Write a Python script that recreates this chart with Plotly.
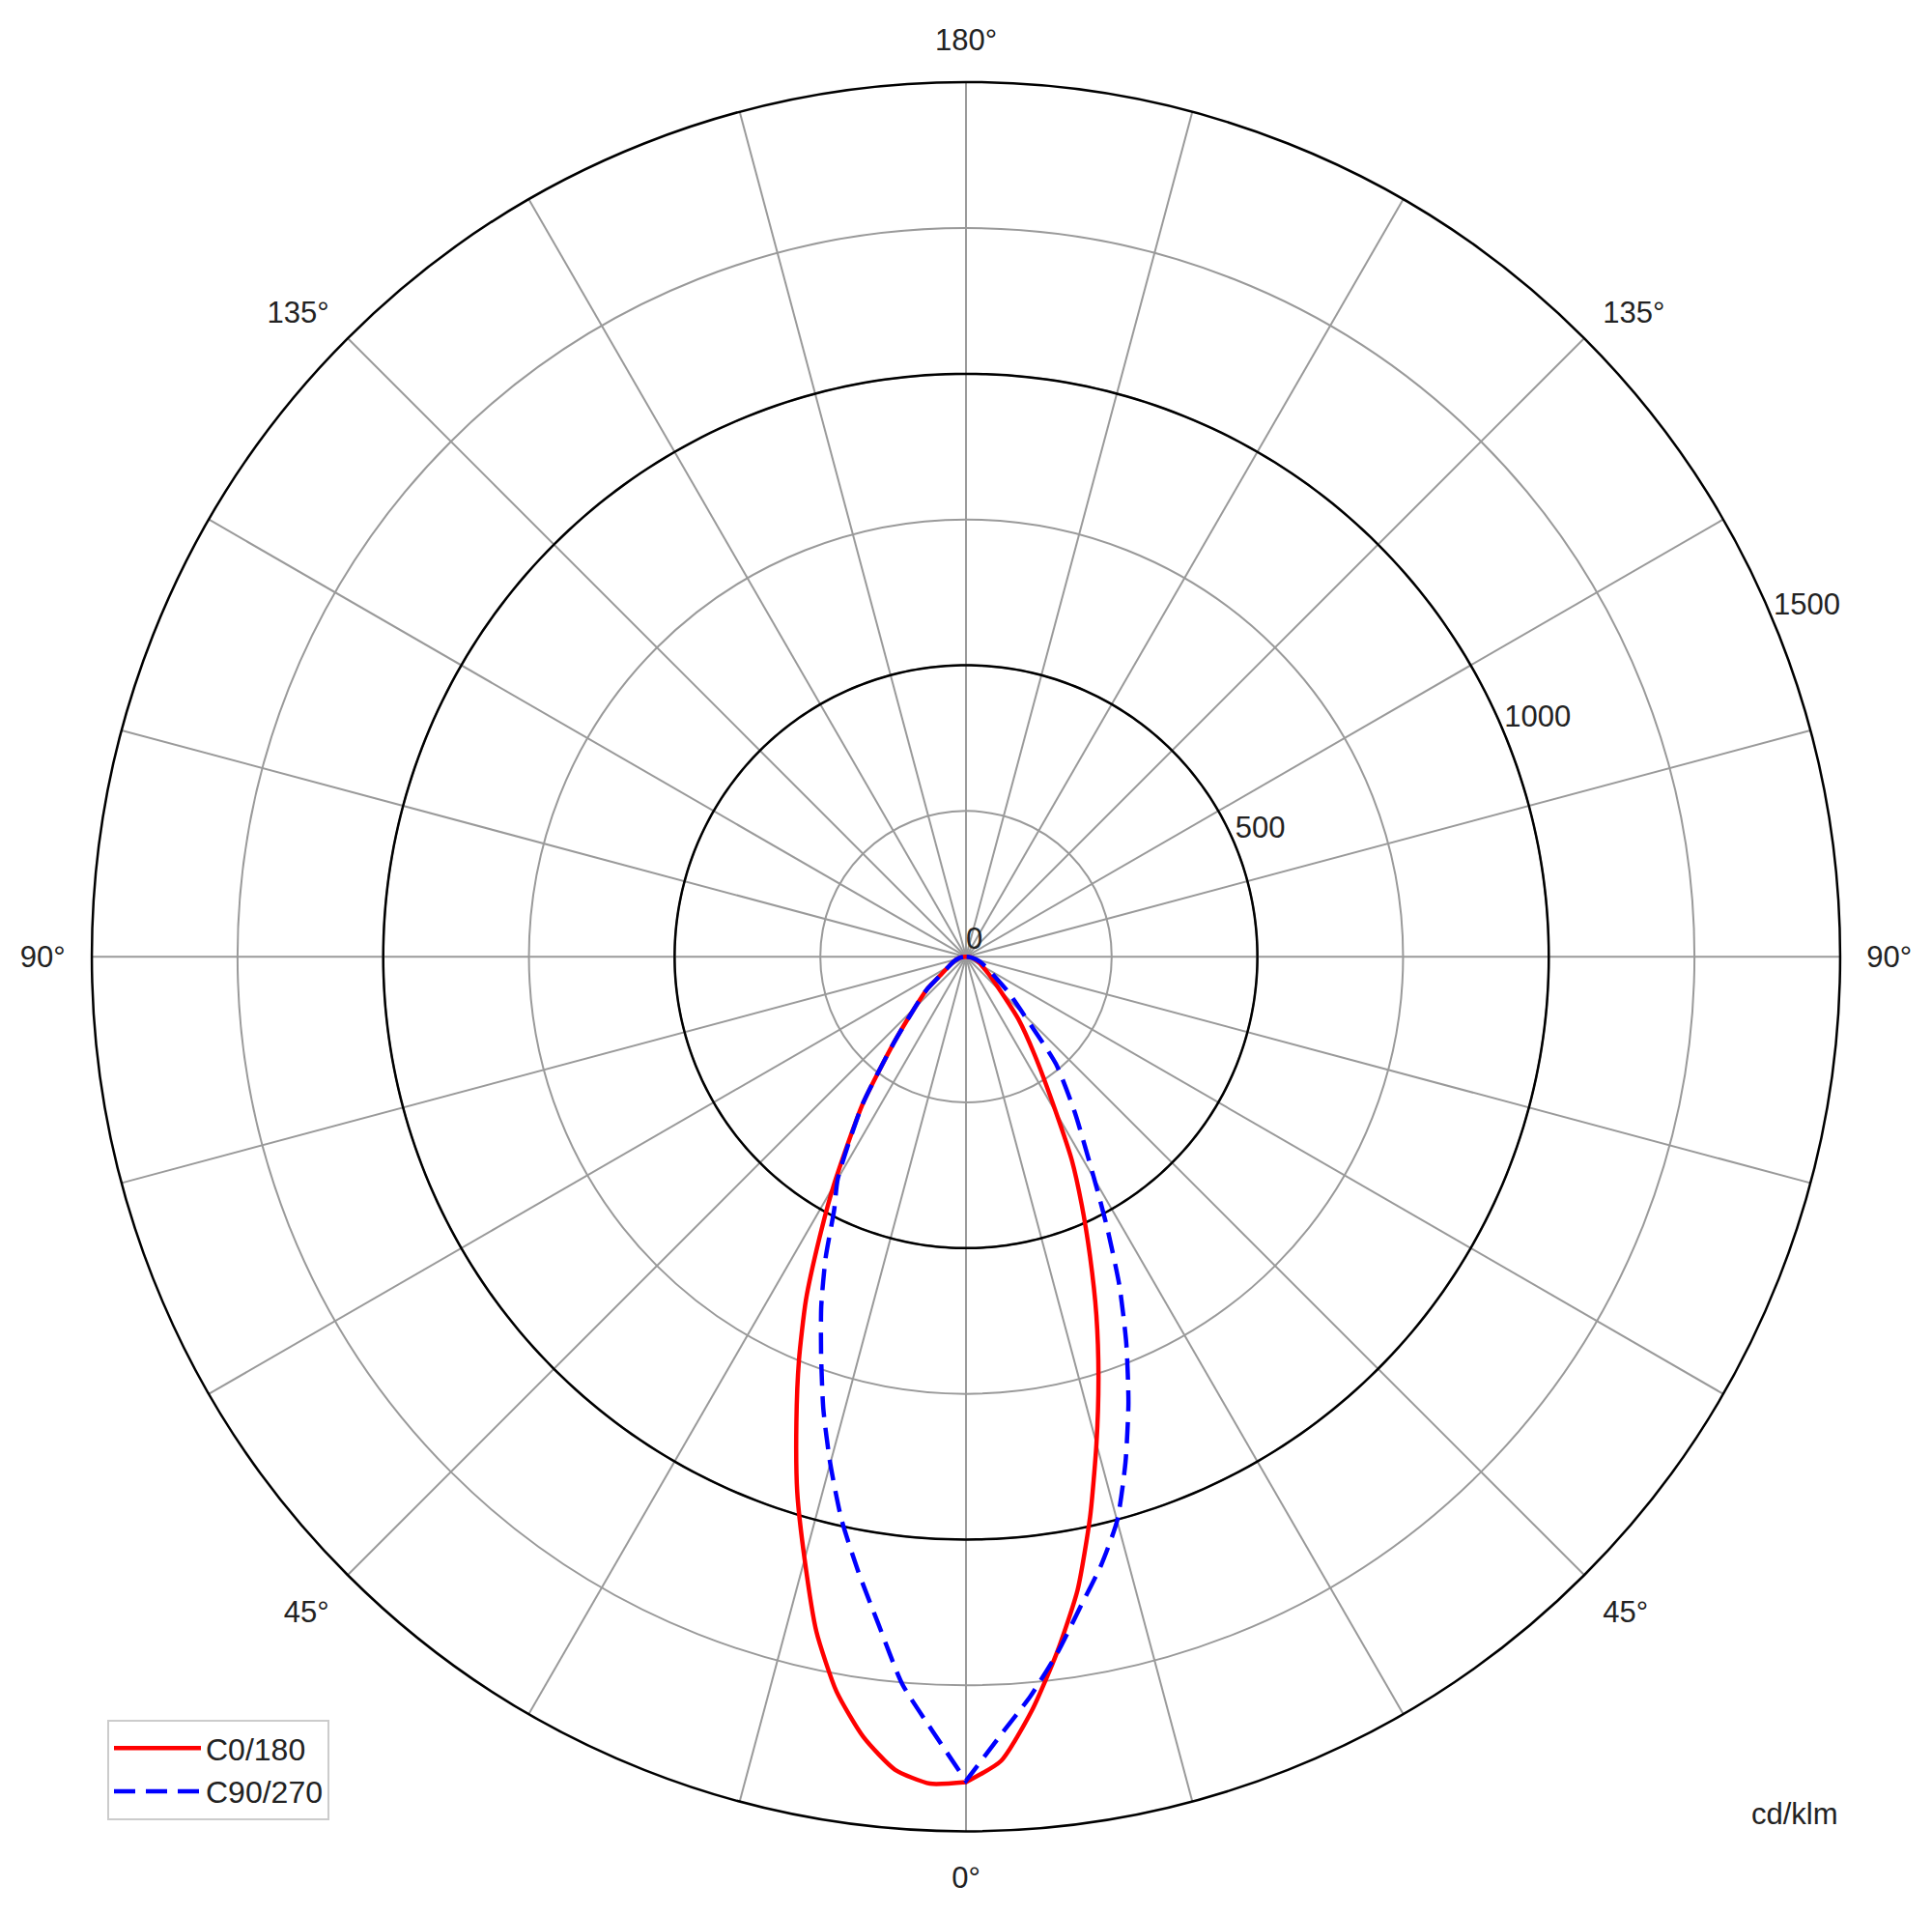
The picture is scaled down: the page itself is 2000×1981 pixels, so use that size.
import numpy as np
import plotly.graph_objects as go

# gamma angles (deg from nadir) and luminous intensity in cd/klm
gamma = [0, 2.5, 5, 7.5, 10, 12.5, 15, 17.5, 20, 22.5, 25, 27.5, 30,
         35, 40, 45, 50, 55, 60, 65, 70, 75, 80, 85, 90]

c0 = [1416, 1381, 1298, 1202, 1103, 984, 865, 756, 654, 556, 470, 393, 310,
      205, 140, 85, 58, 42, 32, 26, 20, 15, 10, 5, 0]
c180 = [1416, 1420, 1400, 1350, 1280, 1186, 1070, 963, 851, 749, 650, 545, 455,
        310, 192, 125, 88, 50, 35, 27, 21, 15, 10, 5, 0]
c90 = [1414, 1338, 1273, 1204, 1132, 1070, 1002, 910, 815, 719, 623, 525, 440,
       325, 240, 140, 95, 62, 45, 34, 26, 18, 11, 5, 0]
c270 = [1414, 1329, 1253, 1154, 1069, 988, 900, 814, 727, 649, 570, 490, 440,
        310, 192, 125, 88, 50, 35, 27, 21, 15, 10, 5, 0]

r_ticks = [0, 250, 500, 750, 1000, 1250, 1500]
r_labelled = [0, 500, 1000, 1500]
major_rings = [500, 1000]

theta_ticks = list(range(0, 360, 15))
theta_named = {0: "0°", 45: "45°", 90: "90°", 135: "135°", 180: "180°",
               225: "135°", 270: "90°", 315: "45°"}
theta_labels = [theta_named.get(t, "") for t in theta_ticks]

FONT = "Liberation Sans, Arial, sans-serif"
TXT = "#222222"


def both_sides(right, left):
    # left half (C180 / C270) mirrored, then right half (C0 / C90)
    th = [360 - g for g in gamma[::-1]] + gamma
    rr = left[::-1] + right
    return th, rr


fig = go.Figure()

ring_theta = np.linspace(0, 360, 361)
for ring in major_rings:
    fig.add_trace(go.Scatterpolar(
        r=[ring] * len(ring_theta), theta=ring_theta, mode="lines",
        line=dict(color="black", width=2.5), showlegend=False, hoverinfo="skip"))

th, rr = both_sides(c0, c180)
fig.add_trace(go.Scatterpolar(
    r=rr, theta=th, mode="lines", name="C0/180",
    line=dict(color="#ff0000", width=4.5, shape="spline", smoothing=0.6)))

th, rr = both_sides(c90, c270)
fig.add_trace(go.Scatterpolar(
    r=rr, theta=th, mode="lines", name="C90/270",
    line=dict(color="#0000ff", width=4.5, dash="22px,11px",
              shape="spline", smoothing=0.6)))

# radial value labels, horizontal, just outside each ring at 22.5 deg
fig.add_trace(go.Scatterpolar(
    r=r_labelled, theta=[112.5] * len(r_labelled), mode="text",
    text=[str(v) for v in r_labelled], textposition="top right",
    textfont=dict(size=31, family=FONT, color=TXT),
    cliponaxis=False, showlegend=False, hoverinfo="skip"))

fig.update_layout(
    width=2000, height=1981,
    margin=dict(l=0, r=0, t=0, b=0),
    paper_bgcolor="white",
    font=dict(family=FONT, size=31, color=TXT),
    polar=dict(
        domain=dict(x=[0.0435, 0.9485], y=[0.0474, 0.961]),
        bgcolor="white",
        angularaxis=dict(
            rotation=270, direction="counterclockwise",
            tickmode="array", tickvals=theta_ticks, ticktext=theta_labels,
            ticks="outside", ticklen=20, tickcolor="rgba(0,0,0,0)",
            showline=True, linecolor="black", linewidth=2.5,
            gridcolor="#9a9a9a", gridwidth=1.5,
            tickfont=dict(size=31, family=FONT, color=TXT)),
        radialaxis=dict(
            range=[0, 1500], angle=22.5,
            tickmode="array", tickvals=r_ticks, showticklabels=False,
            ticks="", showline=False,
            gridcolor="#9a9a9a", gridwidth=1.5),
    ),
    legend=dict(
        x=0.0515, y=0.1055, xanchor="left", yanchor="top",
        bgcolor="white", bordercolor="#cccccc", borderwidth=2,
        font=dict(size=32, family=FONT, color=TXT),
        itemwidth=90),
    annotations=[dict(
        text="cd/klm", x=0.9485, y=0.0465, xref="paper", yref="paper",
        showarrow=False, font=dict(size=31, family=FONT, color=TXT))],
)

fig.write_html("out.html")
